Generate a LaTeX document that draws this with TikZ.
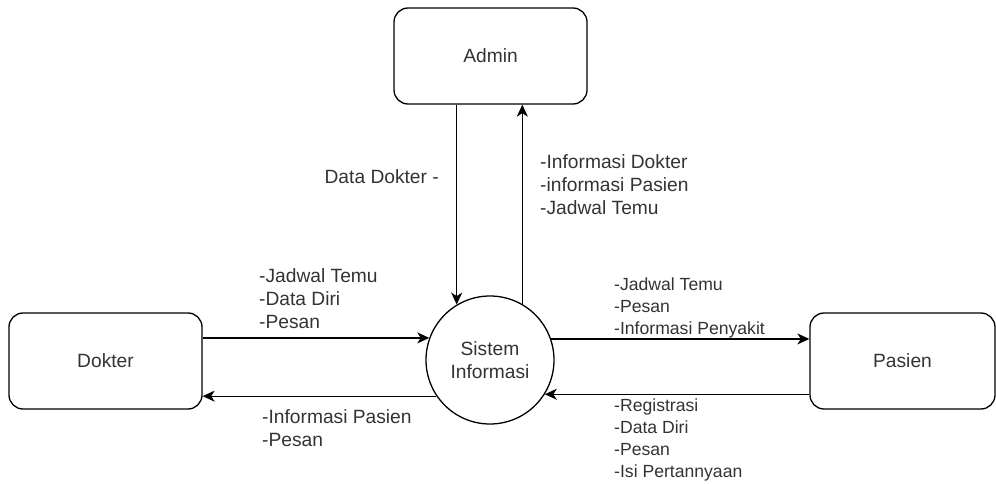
\documentclass[tikz,border=0pt]{standalone}
\usepackage{fontspec}
\setmainfont{Liberation Sans}
\usetikzlibrary{arrows.meta}
\definecolor{inkgray}{HTML}{333333}
\begin{document}
\begin{tikzpicture}[x=1pt,y=-1pt,
  entity/.style={draw=black, line width=1.3pt, rounded corners=14pt,
    minimum width=193pt, minimum height=96pt, text=inkgray,
    font=\fontsize{19.2}{23}\selectfont},
  process/.style={draw=black, line width=1.3pt, circle, minimum size=128pt,
    inner sep=0pt, align=center, text=inkgray,
    font=\fontsize{19.2}{23}\selectfont},
  flow/.style={draw=black, line width=1.3pt,
    -{Stealth[length=12pt, width=11pt, inset=3.5pt]}},
  lbl/.style={inner sep=0pt, align=left, text=inkgray,
    font=\fontsize{19.2}{23}\selectfont},
  lblsmall/.style={inner sep=0pt, align=left, text=inkgray,
    font=\fontsize{17.6}{22}\selectfont}]
\useasboundingbox (0,0) rectangle (996,484);

% external entities and the central process
\node[entity] (admin) at (490.5,56) {Admin};
\node[entity] (dokter) at (105.5,361) {Dokter};
\node[entity, minimum width=185pt] (pasien) at (902.5,361) {Pasien};
\node[process] (sys) at (490,360) {Sistem\\Informasi};

% data flows
\draw[flow] (sys.121 |- admin.south) -- (sys.121);
\draw[flow] (sys.60) -- (sys.60 |- admin.south);
\draw[flow] (sys.160 -| dokter.east) -- (sys.160);
\draw[flow] (sys.214) -- (sys.214 -| dokter.east);
\draw[flow] (sys.19) -- (sys.19 -| pasien.west);
\draw[flow] (sys.328 -| pasien.west) -- (sys.328);

% flow labels
\node[lbl, anchor=east] (l1) at (439,177) {Data Dokter -};
\node[lbl, anchor=west] (l2) at (540,185) {-Informasi Dokter\\-informasi Pasien\\-Jadwal Temu};
\node[lbl, anchor=west] (l3) at (259,299) {-Jadwal Temu\\-Data Diri\\-Pesan};
\node[lbl, anchor=west] (l4) at (262,428) {-Informasi Pasien\\-Pesan};
\node[lblsmall, anchor=west] (l5) at (614,307.5) {-Jadwal Temu\\-Pesan\\-Informasi Penyakit};
\node[lblsmall, anchor=west] (l6) at (614,440) {-Registrasi\\-Data Diri\\-Pesan\\-Isi Pertannyaan};
\end{tikzpicture}
\end{document}
